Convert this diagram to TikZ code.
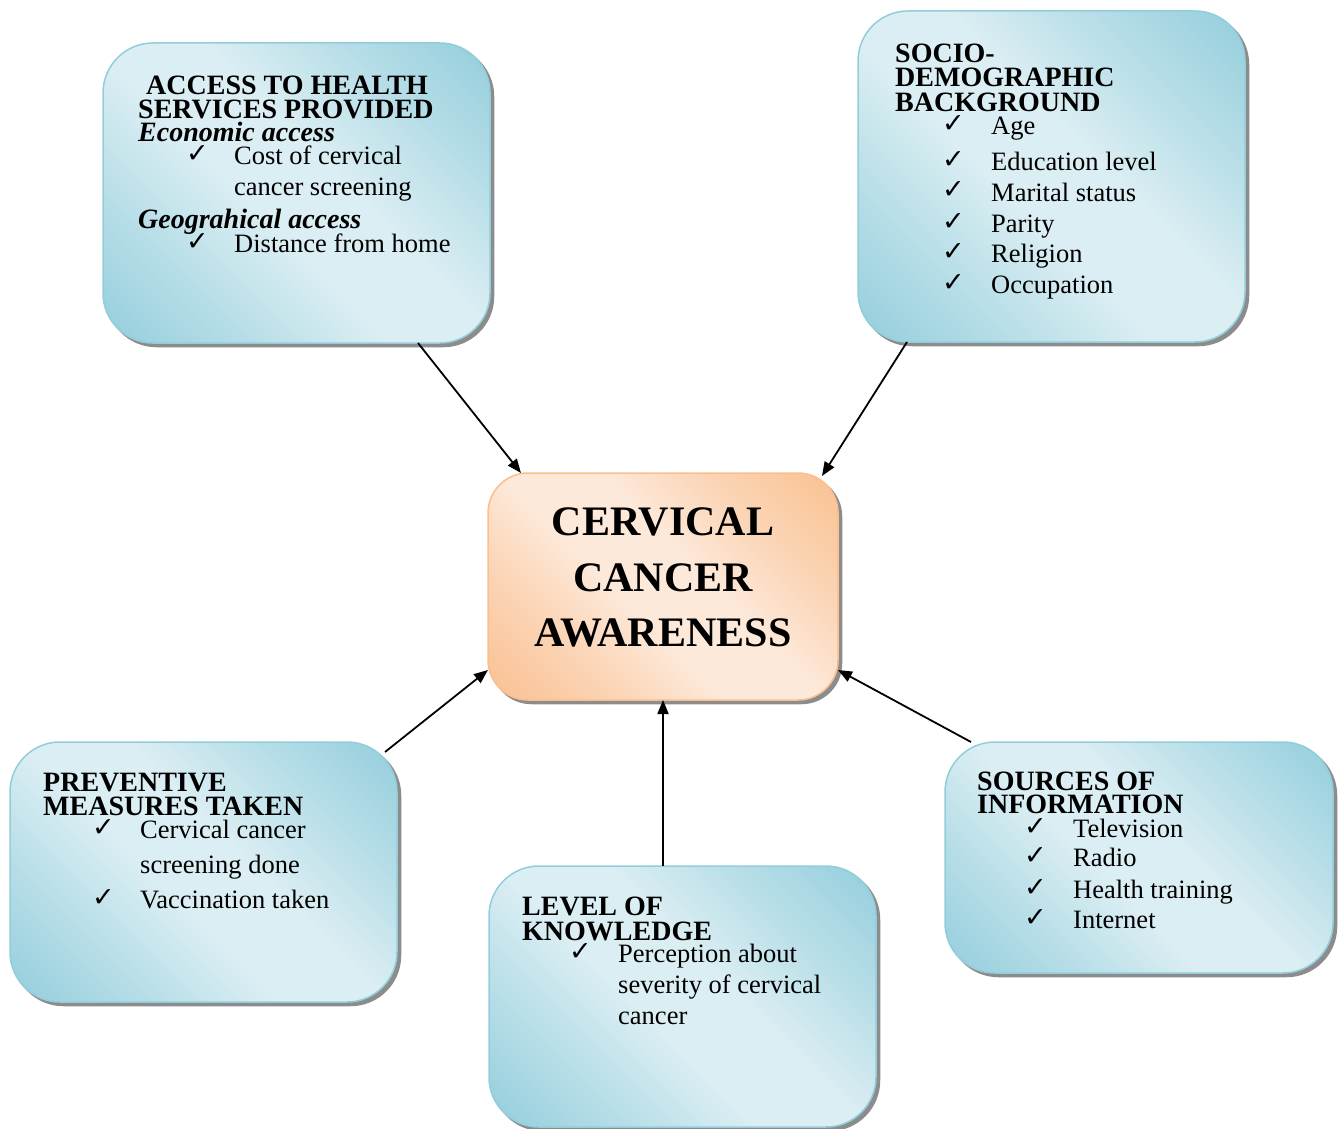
\documentclass[tikz,border=0pt]{standalone}
\usepackage{fontspec}
\setmainfont{Liberation Serif}
\newfontfamily\symf{DejaVu Sans}
\usetikzlibrary{arrows.meta}
\definecolor{bdark}{RGB}{146,205,220}
\definecolor{bmid}{RGB}{188,224,233}
\definecolor{blight}{RGB}{219,238,243}
\definecolor{odark}{RGB}{250,191,143}
\definecolor{omid}{RGB}{251,214,184}
\definecolor{olight}{RGB}{253,233,218}
\definecolor{shadowgray}{RGB}{140,140,140}
\pgfdeclarehorizontalshading{blueshade}{100bp}{color(0bp)=(bdark); color(14bp)=(bdark); color(32bp)=(bmid); color(44bp)=(blight); color(56bp)=(blight); color(68bp)=(bmid); color(86bp)=(bdark); color(100bp)=(bdark)}
\pgfdeclarehorizontalshading{orangeshade}{100bp}{color(0bp)=(odark); color(14bp)=(odark); color(32bp)=(omid); color(44bp)=(olight); color(56bp)=(olight); color(68bp)=(omid); color(86bp)=(odark); color(100bp)=(odark)}
\newcommand\ttlf{\fontsize{28}{28}\selectfont\bfseries}
\newcommand\bodyf{\fontsize{26.5}{31}\selectfont}
\newcommand\cenf{\fontsize{42}{56}\selectfont\bfseries}
\newcommand\ck{{\symf\fontsize{27}{27}\selectfont ✓}}
\begin{document}
\begin{tikzpicture}[x=1pt,y=-1pt,
  boxbase/.style={line width=1.5pt, inner sep=0pt, outer sep=0pt,
    preaction={draw=shadowgray, fill=shadowgray, line width=1.5pt, transform canvas={xshift=3.5pt,yshift=-3.5pt}}},
  bluebox/.style={boxbase, draw=bdark, rounded corners=50pt, shading=blueshade, shading angle=45},
  orangebox/.style={boxbase, draw=odark, rounded corners=40pt, shading=orangeshade, shading angle=45},
  ttl/.style={anchor=base west, inner sep=0pt, font=\ttlf},
  sub/.style={anchor=base west, inner sep=0pt, font=\ttlf\itshape},
  itm/.style={anchor=base west, inner sep=0pt, font=\bodyf},
  chk/.style={anchor=base west, inner sep=0pt, font=\bodyf},
  cen/.style={anchor=base, inner sep=0pt, font=\cenf},
  arr/.style={line width=1.8pt, -{Triangle[length=14pt,width=11pt]}}]
\useasboundingbox (0,0) rectangle (1342,1129);

% boxes
\node[bluebox, minimum width=387pt, minimum height=300pt] (access) at (296.5,193) {};
\node[bluebox, minimum width=387pt, minimum height=331pt] (socio) at (1051.5,176.5) {};
\node[orangebox, minimum width=350pt, minimum height=227pt] (center) at (663,586.5) {};
\node[bluebox, minimum width=387pt, minimum height=260pt] (prev) at (203.5,872) {};
\node[bluebox, minimum width=387pt, minimum height=261pt] (level) at (682.5,996.5) {};
\node[bluebox, minimum width=388pt, minimum height=231pt] (sources) at (1139,857.5) {};

% access texts
\node[ttl] (a1) at (146,95) {ACCESS TO HEALTH};
\node[ttl] (a2) at (138,119) {SERVICES PROVIDED};
\node[sub] (a3) at (138,142) {Economic access};
\node[chk] (a4c) at (186,163) {\ck};
\node[itm] (a4) at (234,165) {Cost of cervical};
\node[itm] (a5) at (234,196) {cancer screening};
\node[sub] (a6) at (138,228) {Geograhical access};
\node[chk] (a7c) at (186,250) {\ck};
\node[itm] (a7) at (234,252) {Distance from home};

% socio texts
\node[ttl] (s1) at (895,63) {SOCIO-};
\node[ttl] (s2) at (895,87) {DEMOGRAPHIC};
\node[ttl] (s3) at (895,112) {BACKGROUND};
\foreach \t/\y [count=\i] in {Age/135, Education level/171, Marital status/201, Parity/232, Religion/262, Occupation/293}{
  \node[chk] (sc\i) at (942,\y-2) {\ck};
  \node[itm] (si\i) at (991,\y) {\t};
}

% center texts
\node[cen] (c1) at (663,535) {CERVICAL};
\node[cen] (c2) at (663,591) {CANCER};
\node[cen] (c3) at (663,646) {AWARENESS};

% preventive texts
\node[ttl] (p1) at (43,791) {PREVENTIVE};
\node[ttl] (p2) at (43,815) {MEASURES TAKEN};
\node[chk] (p3c) at (92,836) {\ck};
\node[itm] (p3) at (140,838) {Cervical cancer};
\node[itm] (p4) at (140,873) {screening done};
\node[chk] (p5c) at (92,906) {\ck};
\node[itm] (p5) at (140,908) {Vaccination taken};

% level texts
\node[ttl] (l1) at (522,915) {LEVEL OF};
\node[ttl] (l2) at (522,940) {KNOWLEDGE};
\node[chk] (l3c) at (569,960) {\ck};
\node[itm] (l3) at (618,962) {Perception about};
\node[itm] (l4) at (618,993) {severity of cervical};
\node[itm] (l5) at (618,1024) {cancer};

% sources texts
\node[ttl] (o1) at (977,790) {SOURCES OF};
\node[ttl] (o2) at (977,813) {INFORMATION};
\foreach \t/\y [count=\i] in {Television/837, Radio/866, Health training/898, Internet/928}{
  \node[chk] (oc\i) at (1024,\y-2) {\ck};
  \node[itm] (oi\i) at (1073,\y) {\t};
}

% arrows
\draw[arr] ([xshift=121.5pt]access.south) -- ([xshift=33pt]center.north west);
\draw[arr] ([xshift=-144.5pt]socio.south) -- ([xshift=-16pt,yshift=-3pt]center.north east);
\draw[arr] ([xshift=-12pt,yshift=-10pt]prev.north east) -- ([yshift=30pt]center.south west);
\draw[arr] (level.north -| center.south) -- (center.south);
\draw[arr] ([xshift=26pt]sources.north west) -- ([yshift=30pt]center.south east);
\end{tikzpicture}
\end{document}
